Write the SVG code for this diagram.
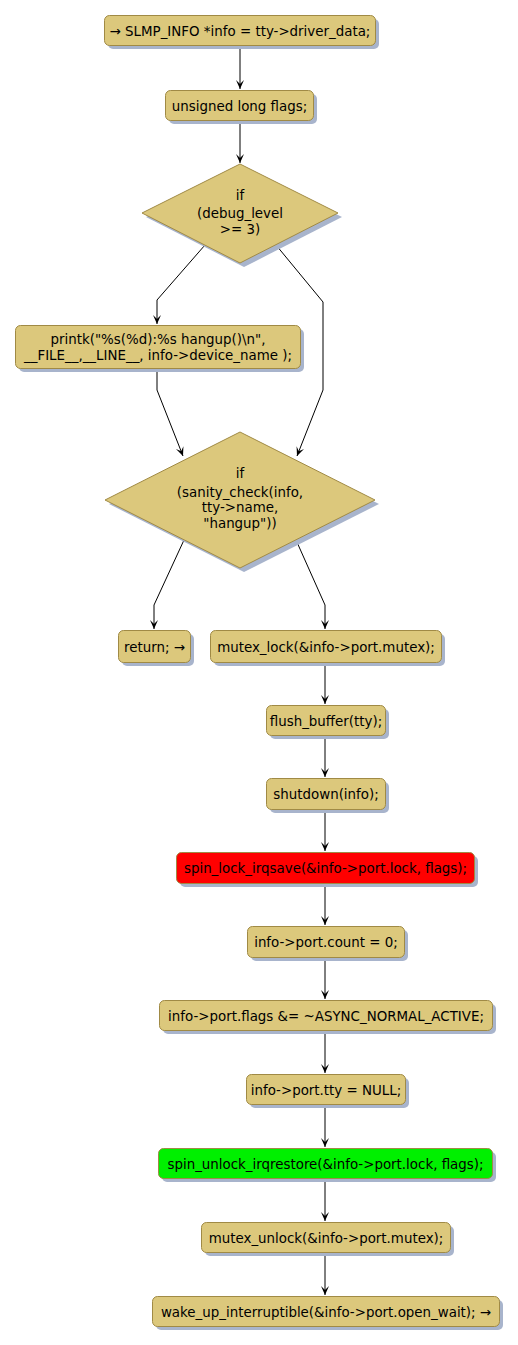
<svg xmlns="http://www.w3.org/2000/svg" width="518" height="1345" viewBox="0 0 518 1345">
<defs>
<style>
.n{fill:#DCC87C;stroke:#A08A45;stroke-width:1}
.s{fill:#A8B4CC}
.r{fill:#FF0000;stroke:#A08A45;stroke-width:1}
.g{fill:#00F000;stroke:#A08A45;stroke-width:1}
.t{font-family:"DejaVu Sans",sans-serif;font-size:13.4px;fill:#000;text-anchor:middle}
.e{fill:none;stroke:#000;stroke-width:1}
</style>
<marker id="ar" markerWidth="10" markerHeight="10" refX="9" refY="4" orient="auto" markerUnits="userSpaceOnUse">
<path d="M0,0 L9,4 L0,8 L4,4 Z" fill="#000"/>
</marker>
</defs>
<rect width="518" height="1345" fill="#fff"/>
<g id="connectors">
<path class="e" d="M240,46 V89" marker-end="url(#ar)"/>
<path class="e" d="M240,120 V163" marker-end="url(#ar)"/>
<path class="e" d="M205,245 L157,300 V324" marker-end="url(#ar)"/>
<path class="e" d="M276,245 L323,302 V390 L297,456" marker-end="url(#ar)"/>
<path class="e" d="M157,368 V390 L183,456" marker-end="url(#ar)"/>
<path class="e" d="M184,540 L154,605 V629" marker-end="url(#ar)"/>
<path class="e" d="M296,540 L325,605 V629" marker-end="url(#ar)"/>
<path class="e" d="M325,662 V704" marker-end="url(#ar)"/>
<path class="e" d="M325,735 V777" marker-end="url(#ar)"/>
<path class="e" d="M325,809 V851" marker-end="url(#ar)"/>
<path class="e" d="M325,883 V925" marker-end="url(#ar)"/>
<path class="e" d="M325,957 V999" marker-end="url(#ar)"/>
<path class="e" d="M325,1030 V1073" marker-end="url(#ar)"/>
<path class="e" d="M325,1104 V1147" marker-end="url(#ar)"/>
<path class="e" d="M325,1178 V1221" marker-end="url(#ar)"/>
<path class="e" d="M325,1252 V1295" marker-end="url(#ar)"/>
</g>
<g id="n1"><rect class="s" x="108" y="19" width="271" height="30" rx="5"/><rect class="n" x="104.5" y="15.5" width="271" height="30" rx="5"/><text class="t" x="240" y="35.5">→ SLMP_INFO *info = tty-&gt;driver_data;</text></g>
<g id="n2"><rect class="s" x="169" y="94" width="148" height="30" rx="5"/><rect class="n" x="165.5" y="90.5" width="148" height="30" rx="5"/><text class="t" x="239.5" y="110.5">unsigned long flags;</text></g>
<g id="d1"><polygon class="s" points="244,168 342,217 244,267 146,217"/><polygon class="n" points="240,164 338,213 240,263 142,213"/><text class="t" x="240" y="200">if</text><text class="t" x="240" y="218">(debug_level</text><text class="t" x="240" y="234">&gt;= 3)</text></g>
<g id="n3"><rect class="s" x="19" y="329" width="285" height="43" rx="5"/><rect class="n" x="15.5" y="325.5" width="285" height="43" rx="5"/><text class="t" x="158" y="344">printk("%s(%d):%s hangup()\n",</text><text class="t" x="158" y="360">__FILE__,__LINE__, info-&gt;device_name );</text></g>
<g id="d2"><polygon class="s" points="244,436 379,504 244,572 109,504"/><polygon class="n" points="240,432 375,500 240,568 105,500"/><text class="t" x="240" y="478">if</text><text class="t" x="240" y="497">(sanity_check(info,</text><text class="t" x="240" y="512">tty-&gt;name,</text><text class="t" x="240" y="528">"hangup"))</text></g>
<g id="n4"><rect class="s" x="122" y="634" width="72" height="32" rx="5"/><rect class="n" x="118.5" y="630.5" width="72" height="32" rx="5"/><text class="t" x="154.5" y="651.5">return; →</text></g>
<g id="n5"><rect class="s" x="214" y="634" width="231" height="32" rx="5"/><rect class="n" x="210.5" y="630.5" width="231" height="32" rx="5"/><text class="t" x="326" y="651.5">mutex_lock(&amp;info-&gt;port.mutex);</text></g>
<g id="n6"><rect class="s" x="270" y="709" width="119" height="30" rx="5"/><rect class="n" x="266.5" y="705.5" width="119" height="30" rx="5"/><text class="t" x="326" y="725.5">flush_buffer(tty);</text></g>
<g id="n7"><rect class="s" x="270" y="782" width="119" height="31" rx="5"/><rect class="n" x="266.5" y="778.5" width="119" height="31" rx="5"/><text class="t" x="326" y="798.5">shutdown(info);</text></g>
<g id="n8"><rect class="s" x="180" y="856" width="298" height="31" rx="5"/><rect class="r" x="176.5" y="852.5" width="298" height="31" rx="5"/><text class="t" x="325.5" y="872.5">spin_lock_irqsave(&amp;info-&gt;port.lock, flags);</text></g>
<g id="n9"><rect class="s" x="251" y="930" width="157" height="31" rx="5"/><rect class="n" x="247.5" y="926.5" width="157" height="31" rx="5"/><text class="t" x="326" y="946.5">info-&gt;port.count = 0;</text></g>
<g id="n10"><rect class="s" x="163" y="1004" width="333" height="30" rx="5"/><rect class="n" x="159.5" y="1000.5" width="333" height="30" rx="5"/><text class="t" x="326" y="1020.5">info-&gt;port.flags &amp;= ~ASYNC_NORMAL_ACTIVE;</text></g>
<g id="n11"><rect class="s" x="250" y="1078" width="159" height="30" rx="5"/><rect class="n" x="246.5" y="1074.5" width="159" height="30" rx="5"/><text class="t" x="326" y="1094.5">info-&gt;port.tty = NULL;</text></g>
<g id="n12"><rect class="s" x="162" y="1152" width="334" height="30" rx="5"/><rect class="g" x="158.5" y="1148.5" width="334" height="30" rx="5"/><text class="t" x="325.5" y="1168.5">spin_unlock_irqrestore(&amp;info-&gt;port.lock, flags);</text></g>
<g id="n13"><rect class="s" x="205" y="1226" width="249" height="30" rx="5"/><rect class="n" x="201.5" y="1222.5" width="249" height="30" rx="5"/><text class="t" x="326" y="1242.5">mutex_unlock(&amp;info-&gt;port.mutex);</text></g>
<g id="n14"><rect class="s" x="156" y="1300" width="347" height="30" rx="5"/><rect class="n" x="152.5" y="1296.5" width="347" height="30" rx="5"/><text class="t" x="326" y="1316.5">wake_up_interruptible(&amp;info-&gt;port.open_wait); →</text></g>
</svg>
